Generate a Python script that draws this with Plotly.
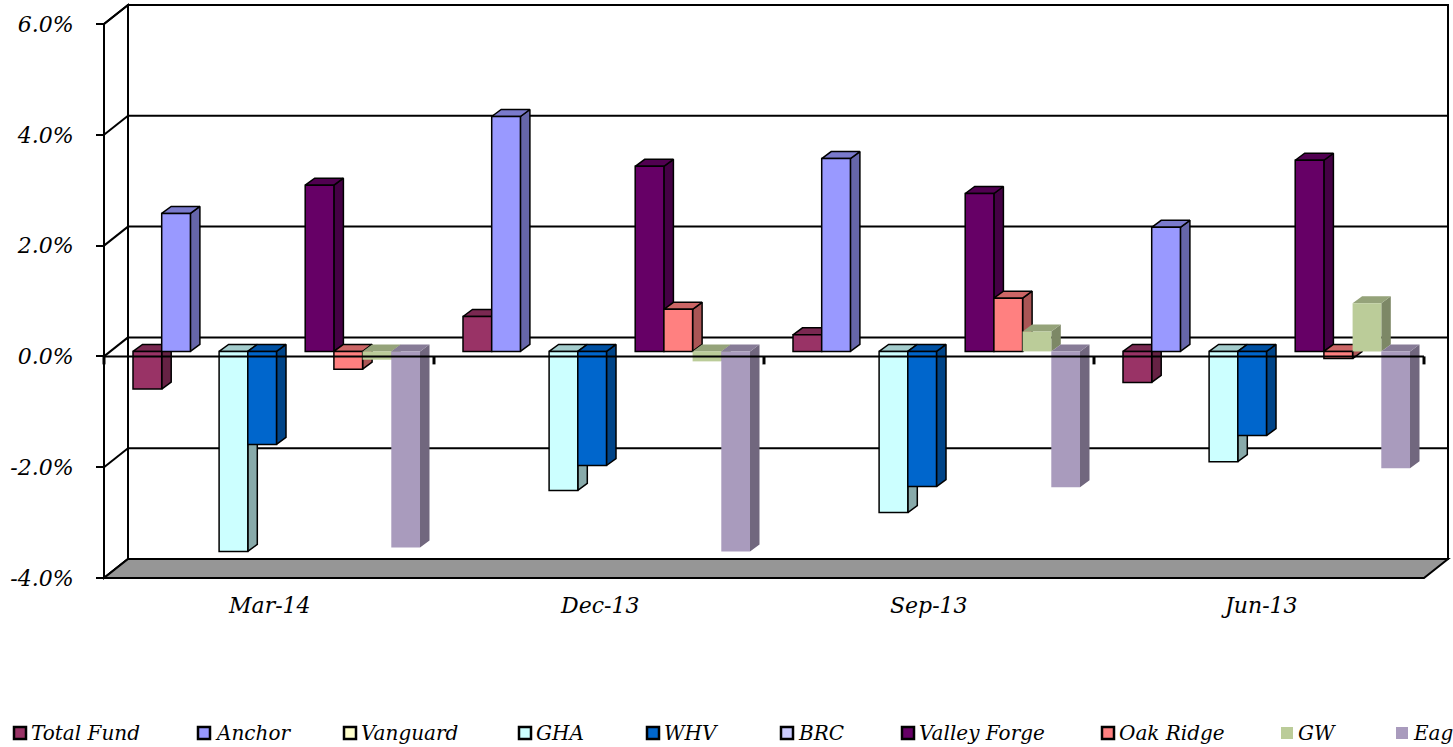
import plotly.graph_objects as go

# ---------------------------------------------------------------- data
categories = ["Mar-14", "Dec-13", "Sep-13", "Jun-13"]
series_names = ["Total Fund", "Anchor", "Vanguard", "GHA", "WHV",
                "BRC", "Valley Forge", "Oak Ridge", "GW", "Eagle"]

# quarterly returns, in percent
total_fund = [-0.68, 0.63, 0.30, -0.56]
anchor = [2.49, 4.24, 3.48, 2.24]
vanguard = [None, None, None, None]
gha = [-3.61, -2.51, -2.91, -1.99]
whv = [-1.68, -2.06, -2.44, -1.52]
brc = [None, None, None, None]
valley_forge = [3.00, 3.34, 2.85, 3.45]
oak_ridge = [-0.32, 0.76, 0.96, -0.13]
gw = [-0.15, -0.18, 0.36, 0.87]
eagle = [-3.54, -3.61, -2.45, -2.11]

y_ticks = [-4, -2, 0, 2, 4, 6]

series_values = [total_fund, anchor, vanguard, gha, whv,
                 brc, valley_forge, oak_ridge, gw, eagle]

# ---------------------------------------------------------------- styles
front_colors = ["#993366", "#9999FF", "#FFFFCC", "#CCFFFF", "#0066CC",
                "#CCCCFF", "#660066", "#FF8080", "#BBCC99", "#A99BBD"]
outlined = [True, True, True, True, True, True, True, True, False, False]


def shade(hex_color, k):
    h = hex_color.lstrip("#")
    r, g, b = (int(h[i:i + 2], 16) for i in (0, 2, 4))
    return "#{:02X}{:02X}{:02X}".format(int(r * k), int(g * k), int(b * k))


SERIF = "DejaVu Serif"
FONT_TICK = dict(family=SERIF, size=22, color="black", style="italic")
FONT_CAT = dict(family=SERIF, size=22, color="black", style="italic")
FONT_LEG = dict(family=SERIF, size=20, color="black", style="italic")

# ---------------------------------------------------------------- geometry
W, H = 1453, 747
PLOT_L = 90            # left edge of plotting region (px)
AXIS_PX = 104          # front value axis (px)
X_PX = 330.0           # px per category
Y_PX = 55.4            # px per 1 %
Y6_PX = 24             # pixel row of the 6 % tick


def dx(px):
    return px / X_PX


def dy(px):
    return px / Y_PX


def px_to_x(px):
    return (px - AXIS_PX) / X_PX


def py_to_y(py):
    return 6 - (py - Y6_PX) / Y_PX


def paper_x(px):
    return (px - PLOT_L) / (W - PLOT_L)


def paper_y(py):
    return (H - py) / H


WALL_DX, WALL_DY = dx(24), dy(19)      # depth of back wall
FRONT_DX, FRONT_DY = dx(7.5), dy(5)    # front plane of the columns
BAR_DX, BAR_DY = dx(9.5), dy(7)        # depth of a column
SLOT = dx(28.7)                        # width of a column
n_series = len(series_names)
n_cat = len(categories)

x_range = [px_to_x(PLOT_L), px_to_x(W)]
y_range = [py_to_y(H), py_to_y(0)]

fig = go.Figure()

# ---------------------------------------------------------------- side / top faces
for s, (name, vals) in enumerate(zip(series_names, series_values)):
    side_x, side_y, top_x, top_y = [], [], [], []
    for c, v in enumerate(vals):
        if v is None:
            continue
        xc = c + 0.5 + FRONT_DX + (s - (n_series - 1) / 2) * SLOT
        x0, x1 = xc - SLOT / 2, xc + SLOT / 2
        b = FRONT_DY
        lo, hi = min(b, b + v), max(b, b + v)
        side_x += [x1, x1, x1 + BAR_DX, x1 + BAR_DX, x1, None]
        side_y += [lo, hi, hi + BAR_DY, lo + BAR_DY, lo, None]
        top_x += [x0, x1, x1 + BAR_DX, x0 + BAR_DX, x0, None]
        top_y += [hi, hi, hi + BAR_DY, hi + BAR_DY, hi, None]
    if not side_x:
        continue
    lw = 1.5 if outlined[s] else 0
    for fx, fy, k in ((side_x, side_y, 0.67), (top_x, top_y, 0.8)):
        fig.add_trace(go.Scatter(
            x=fx, y=fy, mode="lines", fill="toself",
            fillcolor=shade(front_colors[s], k),
            line=dict(color="black", width=lw),
            hoverinfo="skip", showlegend=False))

# ---------------------------------------------------------------- front faces
for s, (name, vals) in enumerate(zip(series_names, series_values)):
    xs = [c + 0.5 + FRONT_DX + (s - (n_series - 1) / 2) * SLOT for c in range(n_cat)]
    fig.add_trace(go.Bar(
        x=xs, y=vals, base=FRONT_DY, width=SLOT, name=name,
        xaxis="x2", yaxis="y2",
        marker=dict(color=front_colors[s],
                    line=dict(color="black", width=1.5 if outlined[s] else 0)),
        customdata=categories,
        hovertemplate="%{customdata}<br>" + name + ": %{y:.2f}%<extra></extra>",
        showlegend=False))

# ---------------------------------------------------------------- walls and floor
shapes = []
line_k = dict(color="black", width=2)
y_lo, y_hi = min(y_ticks), max(y_ticks)
# back wall
shapes.append(dict(type="rect", xref="x", yref="y", layer="below",
                   x0=WALL_DX, x1=n_cat + WALL_DX,
                   y0=y_lo + WALL_DY, y1=y_hi + WALL_DY,
                   fillcolor="white", line=line_k))
for v in y_ticks[1:-1]:
    shapes.append(dict(type="line", xref="x", yref="y", layer="below",
                       x0=WALL_DX, x1=n_cat + WALL_DX,
                       y0=v + WALL_DY, y1=v + WALL_DY, line=line_k))
# side wall
shapes.append(dict(type="path", xref="x", yref="y", layer="below",
                   path=f"M0,{y_lo} L0,{y_hi} L{WALL_DX},{y_hi + WALL_DY} "
                        f"L{WALL_DX},{y_lo + WALL_DY} Z",
                   fillcolor="white", line=line_k))
for v in y_ticks:
    shapes.append(dict(type="line", xref="x", yref="y", layer="below",
                       x0=0, x1=WALL_DX, y0=v, y1=v + WALL_DY, line=line_k))
# floor
shapes.append(dict(type="path", xref="x", yref="y", layer="below",
                   path=f"M0,{y_lo} L{n_cat},{y_lo} L{n_cat + WALL_DX},{y_lo + WALL_DY} "
                        f"L{WALL_DX},{y_lo + WALL_DY} Z",
                   fillcolor="#969696", line=line_k))
# category axis at zero with tick marks
shapes.append(dict(type="line", xref="x", yref="y", layer="above",
                   x0=0, x1=n_cat, y0=0, y1=0, line=line_k))
for c in range(n_cat + 1):
    shapes.append(dict(type="line", xref="x", yref="y", layer="above",
                       x0=c, x1=c, y0=0, y1=-dy(8), line=dict(color="black", width=3)))

# ---------------------------------------------------------------- category labels
annotations = []
for c, cat in enumerate(categories):
    annotations.append(dict(x=c + 0.5, y=y_lo - dy(27), xref="x", yref="y",
                            text=cat, showarrow=False, font=FONT_CAT,
                            xanchor="center", yanchor="middle"))

# ---------------------------------------------------------------- legend
legend_px = [14, 198, 344, 519, 647, 781, 902, 1102, 1281, 1396]
LEG_Y = 733
BOX = 12
for s, name in enumerate(series_names):
    x0 = legend_px[s]
    shapes.append(dict(type="rect", xref="paper", yref="paper",
                       x0=paper_x(x0), x1=paper_x(x0 + BOX),
                       y0=paper_y(LEG_Y + BOX / 2), y1=paper_y(LEG_Y - BOX / 2),
                       fillcolor=front_colors[s],
                       line=dict(color="black", width=2.5 if outlined[s] else 0)))
    annotations.append(dict(x=paper_x(x0 + BOX + 3), y=paper_y(LEG_Y),
                            xref="paper", yref="paper", text=name,
                            showarrow=False, font=FONT_LEG,
                            xanchor="left", yanchor="middle"))

fig.update_layout(
    width=W, height=H,
    margin=dict(l=PLOT_L, r=0, t=0, b=0),
    paper_bgcolor="white", plot_bgcolor="rgba(0,0,0,0)",
    barmode="overlay",
    showlegend=False,
    shapes=shapes,
    annotations=annotations,
    xaxis=dict(range=x_range, visible=False, fixedrange=True),
    yaxis=dict(range=y_range, anchor="free",
               position=paper_x(AXIS_PX),
               tickvals=y_ticks, ticktext=[f"{v:.1f}%" for v in y_ticks],
               ticks="outside", ticklen=8, tickwidth=2, tickcolor="black",
               tickfont=FONT_TICK, ticklabelstandoff=18,
               showgrid=False, zeroline=False, showline=False, fixedrange=True),
    xaxis2=dict(range=x_range, overlaying="x", visible=False, fixedrange=True),
    yaxis2=dict(range=y_range, overlaying="y", visible=False, fixedrange=True),
)

fig.write_html("out.html")
